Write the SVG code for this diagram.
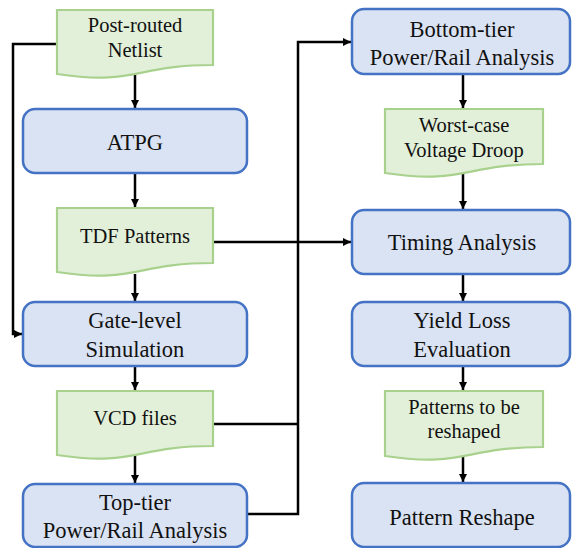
<svg xmlns="http://www.w3.org/2000/svg" width="572" height="548" viewBox="0 0 572 548">
  <defs>
    <style>
      .box { fill: #DAE3F3; stroke: #4472C4; stroke-width: 2.5; }
      .doc { fill: #E2F0D9; stroke: #A9D18E; stroke-width: 2.2; }
      .lbl { font-family: 'Liberation Serif', 'Times New Roman', serif; fill: #111; text-anchor: middle; }
      .big { font-size: 22.5px; }
      .small { font-size: 20.5px; }
      .wire { fill: none; stroke: #000; stroke-width: 2.5; }
    </style>
    <marker id="arrow" viewBox="0 0 10 10" refX="10" refY="5" markerWidth="3.4" markerHeight="3.4" markerUnits="strokeWidth" orient="auto">
      <path d="M0,0 L10,5 L0,10 Z" fill="#000"/>
    </marker>
  </defs>

  <!-- connectors -->
  <g id="connectors">
    <path class="wire" d="M135,74 V108" marker-end="url(#arrow)"/>
    <path class="wire" d="M135,173 V207" marker-end="url(#arrow)"/>
    <path class="wire" d="M135,274 V301" marker-end="url(#arrow)"/>
    <path class="wire" d="M135,366 V390" marker-end="url(#arrow)"/>
    <path class="wire" d="M135,455 V483" marker-end="url(#arrow)"/>
    <path class="wire" d="M57,44 H13 V334 H22" marker-end="url(#arrow)"/>
    <path class="wire" d="M213,242 H351" marker-end="url(#arrow)"/>
    <path class="wire" d="M213,424 H298"/>
    <path class="wire" d="M247,514 H298 V42 H351" marker-end="url(#arrow)"/>
    <path class="wire" d="M463,74 V108" marker-end="url(#arrow)"/>
    <path class="wire" d="M463,174 V209" marker-end="url(#arrow)"/>
    <path class="wire" d="M463,274 V301" marker-end="url(#arrow)"/>
    <path class="wire" d="M463,366 V390" marker-end="url(#arrow)"/>
    <path class="wire" d="M463,456 V482" marker-end="url(#arrow)"/>
  </g>

  <!-- left column -->
  <g id="netlist">
    <path class="doc" d="M57,10 H213 V65 C135,65 135,86 57,74 Z"/>
    <text class="lbl small" x="135" y="32">Post-routed</text>
    <text class="lbl small" x="135" y="57">Netlist</text>
  </g>
  <g id="atpg">
    <rect class="box" x="23" y="109" width="224" height="64" rx="12"/>
    <text class="lbl big" x="135" y="150">ATPG</text>
  </g>
  <g id="tdf-patterns">
    <path class="doc" d="M57,208 H213 V263 C135,263 135,284 57,272 Z"/>
    <text class="lbl small" x="135" y="243">TDF Patterns</text>
  </g>
  <g id="gate-sim">
    <rect class="box" x="23" y="302" width="224" height="64" rx="12"/>
    <text class="lbl big" x="135" y="328">Gate-level</text>
    <text class="lbl big" x="135" y="357">Simulation</text>
  </g>
  <g id="vcd-files">
    <path class="doc" d="M57,391 H213 V446 C135,446 135,467 57,455 Z"/>
    <text class="lbl small" x="135" y="425">VCD files</text>
  </g>
  <g id="top-tier">
    <rect class="box" x="23" y="484" width="224" height="63" rx="12"/>
    <text class="lbl big" x="135" y="510">Top-tier</text>
    <text class="lbl big" x="135" y="538">Power/Rail Analysis</text>
  </g>

  <!-- right column -->
  <g id="bottom-tier">
    <rect class="box" x="352" y="9" width="218" height="65" rx="12"/>
    <text class="lbl big" x="462" y="37">Bottom-tier</text>
    <text class="lbl big" x="462" y="65">Power/Rail Analysis</text>
  </g>
  <g id="voltage-droop">
    <path class="doc" d="M385,109 H543 V164 C464,164 464,185 385,173 Z"/>
    <text class="lbl small" x="464" y="132">Worst-case</text>
    <text class="lbl small" x="464" y="157">Voltage Droop</text>
  </g>
  <g id="timing">
    <rect class="box" x="352" y="210" width="218" height="64" rx="12"/>
    <text class="lbl big" x="462" y="250">Timing Analysis</text>
  </g>
  <g id="yield-loss">
    <rect class="box" x="352" y="302" width="218" height="64" rx="12"/>
    <text class="lbl big" x="462" y="328">Yield Loss</text>
    <text class="lbl big" x="462" y="357">Evaluation</text>
  </g>
  <g id="to-reshape">
    <path class="doc" d="M385,391 H543 V447 C464,447 464,468 385,456 Z"/>
    <text class="lbl small" x="464" y="414">Patterns to be</text>
    <text class="lbl small" x="464" y="438">reshaped</text>
  </g>
  <g id="pattern-reshape">
    <rect class="box" x="352" y="483" width="218" height="64" rx="12"/>
    <text class="lbl big" x="462" y="525">Pattern Reshape</text>
  </g>
</svg>
